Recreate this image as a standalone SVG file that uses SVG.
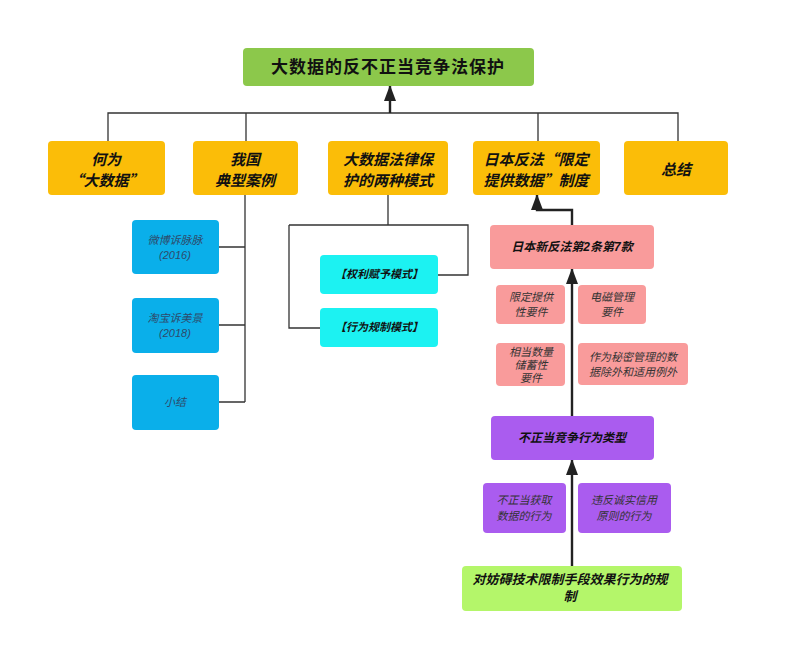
<svg xmlns="http://www.w3.org/2000/svg" width="790" height="672" viewBox="0 0 790 672">
<defs>
<marker id="ah" viewBox="0 0 16 12" refX="15" refY="6" markerWidth="16" markerHeight="12" markerUnits="userSpaceOnUse" orient="auto">
<path d="M0,0 L16,6 L0,12 Z" fill="#222"/>
</marker>
<style>
text{font-family:"Liberation Sans","Noto Sans CJK SC",sans-serif;text-anchor:middle;dominant-baseline:central}
.b{rx:4;ry:4}
.y{fill:#FBBD08}
.bl{fill:#0AAFEA}
.cy{fill:#1CF2F2}
.pk{fill:#F99B9B}
.pu{fill:#AA5CEF}
.g1{fill:#8CC84B}
.g2{fill:#B4F66A}
.ty{font-family:"Noto Sans CJK SC",sans-serif;font-size:15px;font-weight:bold;font-style:italic;fill:#111}
.tb{font-size:11px;font-style:italic;fill:#2E4A6A}
.tc{font-size:11px;font-weight:bold;font-style:italic;fill:#111}
.tp{font-size:12px;font-weight:bold;font-style:italic;fill:#111}
.ts{font-size:11px;font-style:italic;fill:#333}
.ln{fill:none;stroke:#333;stroke-width:1.3}
.lk{fill:none;stroke:#222;stroke-width:2.4}
</style>
</defs>
<rect width="790" height="672" fill="#fff"/>
<g id="connectors">
<path class="ln" d="M108,141 V113 H678 V141 M246,113 V141 M538,113 V141"/>
<path class="lk" d="M390,113 V86" marker-end="url(#ah)"/>
<path class="ln" d="M245,195 V402 M219,247 H245 M219,325 H245 M219,402 H245"/>
<path class="ln" d="M388,195 V225 M289,225 H468 V275 H438 M289,225 V328 H320"/>
<path class="lk" d="M572,225 V210 H537 V195" marker-end="url(#ah)"/>
<path class="lk" d="M572,416 V269" marker-end="url(#ah)"/>
<path class="lk" d="M572,566 V460" marker-end="url(#ah)"/>
</g>
<g id="root"><rect class="b g1" x="243" y="48" width="291" height="38"/><text x="388" y="67" style="font-size:17px;font-weight:bold;letter-spacing:1px;fill:#111">大数据的反不正当竞争法保护</text></g>
<g id="n1"><rect class="b y" x="48" y="141" width="117" height="54"/><text class="ty" x="106" y="158">何为</text><text class="ty" x="106" y="179">“大数据”</text></g>
<g id="n2"><rect class="b y" x="193" y="141" width="105" height="54"/><text class="ty" x="245" y="158">我国</text><text class="ty" x="245" y="179">典型案例</text></g>
<g id="n3"><rect class="b y" x="328" y="141" width="120" height="54"/><text class="ty" x="388" y="158">大数据法律保</text><text class="ty" x="388" y="179">护的两种模式</text></g>
<g id="n4"><rect class="b y" x="473" y="141" width="127" height="54"/><text class="ty" x="536" y="158">日本反法“限定</text><text class="ty" x="536" y="179">提供数据”制度</text></g>
<g id="n5"><rect class="b y" x="624" y="141" width="104" height="54"/><text class="ty" x="676" y="168">总结</text></g>
<g id="c1"><rect class="b bl" x="132" y="220" width="87" height="54"/><text class="tb" x="175" y="240">微博诉脉脉</text><text class="tb" x="175" y="255">(2016)</text></g>
<g id="c2"><rect class="b bl" x="132" y="298" width="87" height="55"/><text class="tb" x="175" y="318">淘宝诉美景</text><text class="tb" x="175" y="333">(2018)</text></g>
<g id="c3"><rect class="b bl" x="132" y="375" width="87" height="55"/><text class="tb" x="175" y="402">小结</text></g>
<g id="m1"><rect class="b cy" x="320" y="255" width="118" height="39"/><text class="tc" x="379" y="274">【权利赋予模式】</text></g>
<g id="m2"><rect class="b cy" x="320" y="308" width="118" height="39"/><text class="tc" x="379" y="327">【行为规制模式】</text></g>
<g id="p0"><rect class="b pk" x="490" y="225" width="164" height="44"/><text class="tp" x="572" y="247">日本新反法第2条第7款</text></g>
<g id="p1"><rect class="b pk" x="496" y="285" width="69" height="39"/><text class="ts" x="531" y="297">限定提供</text><text class="ts" x="531" y="312">性要件</text></g>
<g id="p2"><rect class="b pk" x="578" y="285" width="68" height="39"/><text class="ts" x="612" y="297">电磁管理</text><text class="ts" x="612" y="312">要件</text></g>
<g id="p3"><rect class="b pk" x="496" y="343" width="69" height="43"/><text class="ts" x="531" y="352">相当数量</text><text class="ts" x="531" y="365">储蓄性</text><text class="ts" x="531" y="378">要件</text></g>
<g id="p4"><rect class="b pk" x="578" y="343" width="110" height="42"/><text class="ts" x="633" y="357">作为秘密管理的数</text><text class="ts" x="633" y="372">据除外和适用例外</text></g>
<g id="u0"><rect class="b pu" x="491" y="416" width="163" height="44"/><text class="tp" x="572" y="438">不正当竞争行为类型</text></g>
<g id="u1"><rect class="b pu" x="483" y="483" width="83" height="50"/><text class="ts" x="524" y="500">不正当获取</text><text class="ts" x="524" y="516">数据的行为</text></g>
<g id="u2"><rect class="b pu" x="578" y="483" width="93" height="50"/><text class="ts" x="624" y="500">违反诚实信用</text><text class="ts" x="624" y="516">原则的行为</text></g>
<g id="g"><rect class="b g2" x="462" y="566" width="220" height="45"/><text x="570" y="579" style="font-size:13px;font-weight:bold;font-style:italic;fill:#111">对妨碍技术限制手段效果行为的规</text><text x="570" y="596" style="font-size:13px;font-weight:bold;font-style:italic;fill:#111">制</text></g>
</svg>
